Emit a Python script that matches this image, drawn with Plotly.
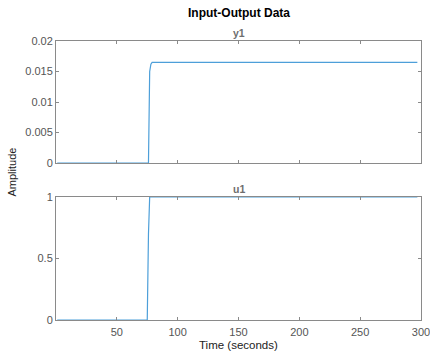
import plotly.graph_objects as go

# Output y1: sampled breakpoints (seconds, amplitude)
t_y = [1, 75, 76, 77, 78, 79, 80, 297]
y1 = [0.0, 0.0, 0.0, 0.0150, 0.0162, 0.0165, 0.0165, 0.0165]

# Input u1
t_u = [1, 75, 76, 77, 297]
u1 = [0.0, 0.0, 0.7, 1.0, 1.0]

x_ticks = [50, 100, 150, 200, 250, 300]
y1_ticks = [0, 0.005, 0.01, 0.015, 0.02]
y1_labels = ["0", "0.005", "0.01", "0.015", "0.02"]
u1_ticks = [0, 0.5, 1]
u1_labels = ["0", "0.5", "1"]

line_color = "#4d9fd9"
axis_color = "#8a8a8a"
tick_font = dict(family="Liberation Sans, Arial, sans-serif", size=11, color="#555555")

fig = go.Figure()
fig.add_trace(go.Scatter(x=t_y, y=y1, mode="lines", line=dict(color=line_color, width=1.2),
                         xaxis="x", yaxis="y", showlegend=False))
fig.add_trace(go.Scatter(x=t_u, y=u1, mode="lines", line=dict(color=line_color, width=1.2),
                         xaxis="x2", yaxis="y2", showlegend=False))

common_x = dict(range=[0, 300], tickvals=x_ticks, ticks="inside", ticklen=3, tickcolor=axis_color,
                showline=True, linecolor=axis_color, linewidth=1, mirror="ticks",
                showgrid=False, zeroline=False, tickfont=tick_font, automargin=False,
                ticklabeloverflow="allow")
common_y = dict(ticks="inside", ticklen=3, tickcolor=axis_color,
                showline=True, linecolor=axis_color, linewidth=1, mirror="ticks",
                showgrid=False, zeroline=False, tickfont=tick_font, automargin=False)

fig.update_layout(
    width=430, height=354, autosize=False,
    margin=dict(l=56, r=9, t=41, b=34, pad=0),
    paper_bgcolor="white", plot_bgcolor="white",
    xaxis=dict(**common_x, anchor="y", showticklabels=False, matches="x2"),
    yaxis=dict(**common_y, domain=[0.5627, 1.0], range=[0, 0.02], tickvals=y1_ticks, ticktext=y1_labels),
    xaxis2=dict(**common_x, anchor="y2", ticklabelstandoff=2),
    yaxis2=dict(**common_y, domain=[0.0, 0.4409], range=[0, 1], tickvals=u1_ticks, ticktext=u1_labels),
    font=dict(family="Liberation Sans, Arial, sans-serif"),
    annotations=[
        dict(text="<b>Input-Output Data</b>", x=0.5, y=1.1004, xref="paper", yref="paper",
             showarrow=False, xanchor="center", yanchor="middle",
             font=dict(size=12, color="#000000")),
        dict(text="<b>y1</b>", x=0.5, y=1.0287, xref="paper", yref="paper",
             showarrow=False, xanchor="center", yanchor="middle",
             font=dict(size=10.5, color="#6e6e6e")),
        dict(text="<b>u1</b>", x=0.5, y=0.4695, xref="paper", yref="paper",
             showarrow=False, xanchor="center", yanchor="middle",
             font=dict(size=10.5, color="#6e6e6e")),
        dict(text="Time (seconds)", x=0.5, y=-0.0896, xref="paper", yref="paper",
             showarrow=False, xanchor="center", yanchor="middle",
             font=dict(size=11.5, color="#222222")),
        dict(text="Amplitude", x=-0.1205, y=0.5287, xref="paper", yref="paper",
             showarrow=False, xanchor="center", yanchor="middle", textangle=-90,
             font=dict(size=11, color="#222222")),
    ],
)

fig.write_html("out.html", config={"displayModeBar": False, "responsive": False},
               post_script="document.body.style.margin='0';document.body.style.overflow='hidden';")
